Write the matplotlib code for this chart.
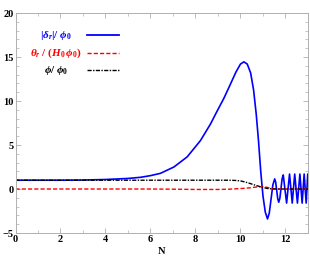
import matplotlib
matplotlib.use("Agg")
import matplotlib.pyplot as plt
from matplotlib.ticker import MultipleLocator

# |delta_r| / phi_0
n_delta = [0, 1, 2, 3, 4, 5, 5.56, 6.0, 6.44, 7.04, 7.63, 8.22, 8.67, 8.95, 9.26,
           9.55, 9.8, 10.0, 10.15, 10.3, 10.45, 10.58, 10.7, 10.8, 10.9, 11.0,
           11.1, 11.2,
           11.28, 11.36, 11.44, 11.52, 11.565, 11.61, 11.655, 11.70, 11.75, 11.80,
           11.85, 11.90, 11.975, 12.05, 12.115, 12.18, 12.24, 12.30, 12.355, 12.41,
           12.47, 12.53, 12.585, 12.64, 12.69, 12.74, 12.785, 12.83, 12.875, 12.92,
           12.955, 12.99, 13.0]
delta = [1.0, 1.0, 1.0, 1.02, 1.08, 1.2, 1.33, 1.52, 1.78, 2.5, 3.65, 5.5, 7.4,
         8.8, 10.3, 11.9, 13.3, 14.2, 14.45, 14.2, 13.2, 11.3, 8.5, 5.5, 2.0,
         -0.8, -2.6, -3.4,
         -2.73, -1.12, 0.48, 1.15, 0.76, -0.17, -1.1, -1.5, -1.05, 0.05, 1.15, 1.6,
         0.0, -1.6, 0.05, 1.7, 0.05, -1.6, 0.05, 1.7, 0.05, -1.6, 0.05, 1.7, 0.05,
         -1.6, 0.05, 1.7, 0.05, -1.6, 0.05, 1.7, 1.5]

# theta_r / (H_0 phi_0)
n_theta = [0, 2, 4, 6, 7, 8, 9, 9.5, 10, 10.4, 10.8, 11.0, 11.2, 11.4, 11.6, 12, 13]
theta = [0, 0, 0, 0, -0.02, -0.05, -0.05, -0.02, 0.05, 0.13, 0.25, 0.28, 0.18,
         0.05, 0.0, 0.0, 0.0]

# phi / phi_0
n_phi = [0, 2, 4, 6, 8, 9, 9.5, 9.8, 10.0, 10.2, 10.4, 10.6, 10.8, 11.0, 11.2,
         11.4, 11.6, 12, 13]
phi = [1.0, 1.0, 1.0, 1.0, 1.0, 1.0, 1.0, 0.97, 0.92, 0.8, 0.65, 0.48, 0.32, 0.17,
       0.06, 0.01, 0.0, 0.0, 0.0]

plt.rcParams['font.family'] = ['Liberation Serif', 'DejaVu Serif']
plt.rcParams['font.weight'] = 'bold'
plt.rcParams['mathtext.fontset'] = 'custom'
plt.rcParams['mathtext.rm'] = 'Liberation Serif:bold'
plt.rcParams['mathtext.it'] = 'Liberation Serif:italic:bold'
plt.rcParams['mathtext.bf'] = 'Liberation Serif:bold'

fig = plt.figure(figsize=(3.10, 2.64), dpi=100)
ax = fig.add_axes([0.05, 0.1174, 0.9435, 0.8333])

ax.plot(n_delta, delta, color='#0000ff', lw=1.2)
ax.plot(n_theta, theta, color='#ff0000', lw=1.0, ls=(0, (3, 1.5)))
ax.plot(n_phi, phi, color='black', lw=1.0, ls=(0, (3, 1, 1, 1)))

ax.set_xlim(0, 13)
ax.set_ylim(-5, 20)
ax.xaxis.set_major_locator(MultipleLocator(2))
ax.xaxis.set_minor_locator(MultipleLocator(1))
ax.yaxis.set_major_locator(MultipleLocator(5))
ax.yaxis.set_minor_locator(MultipleLocator(1))
ax.tick_params(which='both', direction='in', top=True, right=True,
               color='#b0b0b0', labelsize=7.5, pad=1.5)
ax.tick_params(which='major', length=3.5, width=0.6)
ax.tick_params(which='minor', length=2, width=0.5)
for s in ax.spines.values():
    s.set_color('#b0b0b0')
    s.set_linewidth(0.7)
for lab in ax.get_xticklabels() + ax.get_yticklabels():
    lab.set_fontweight('bold')

ax.set_xlabel('N', fontsize=7.5, fontweight='bold', labelpad=2)

# legend, drawn by hand like the original
rows = [(r'$|\delta_r|/\ \phi_0$', '#0000ff', '-', 0.867),
        (r'$\theta_r\ /\ (H_0\,\phi_0)$', '#ff0000', (0, (3, 1.5)), 0.80),
        (r'$\phi/\ \phi_0$', 'black', (0, (3, 1, 1, 1)), 0.733)]
for txt, col, ls, yy in rows:
    fig.text(0.18, yy, txt, color=col, fontsize=8, ha='center', va='center')
    fig.add_artist(plt.Line2D([0.282, 0.383], [yy, yy], color=col, ls=ls,
                              lw=1.3 if ls == '-' else 1.0,
                              transform=fig.transFigure))

fig.savefig('out.png', dpi=100)
